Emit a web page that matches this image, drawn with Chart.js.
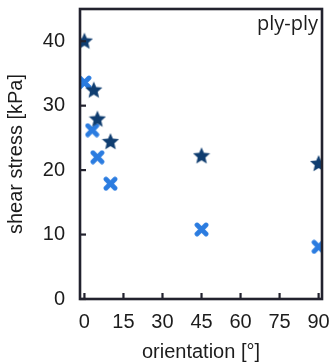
<!DOCTYPE html>
<html>
<head>
<meta charset="utf-8">
<script src="https://cdn.jsdelivr.net/npm/chart.js@4.4.1/dist/chart.umd.min.js"></script>
<style>
  html, body { margin: 0; padding: 0; background: #fff; }
  #wrap { width: 332px; height: 364px; }
</style>
</head>
<body>
<div id="wrap"><canvas id="shearChart" width="332" height="364"></canvas></div>
<script>
// orientation [°] and shear stress [kPa]
const orientDark = [0, 3.6, 5, 10, 45, 90];
const stressDark = [40.1, 32.5, 28.0, 24.5, 22.3, 21.1];
const orientLight = [0, 3, 5, 10, 45, 90];
const stressLight = [33.6, 26.2, 22.0, 17.9, 10.8, 8.1];

const xTicks = [0, 15, 30, 45, 60, 75, 90];
const yTicks = [0, 10, 20, 30, 40];

const axisColor = '#22222e';
const textColor = '#1c1c1c';
const darkColor = '#0f3d70';
const lightColor = '#2b7ce0';

// filled five-point star marker
function makeStar(size, color) {
    const c = document.createElement('canvas');
    c.width = size; c.height = size;
    const g = c.getContext('2d');
    const cx = size / 2, cy = size / 2 + 0.9;
    const ro = size / 2, ri = ro * 0.45;
    g.beginPath();
    for (let i = 0; i < 10; i++) {
        const r = i % 2 === 0 ? ro : ri;
        const a = -Math.PI / 2 + i * Math.PI / 5;
        const px = cx + r * Math.cos(a), py = cy + r * Math.sin(a);
        if (i === 0) g.moveTo(px, py); else g.lineTo(px, py);
    }
    g.closePath();
    g.fillStyle = color;
    g.fill();
    return c;
}

// thick diagonal cross marker
function makeCross(size, color) {
    const c = document.createElement('canvas');
    c.width = size; c.height = size;
    const g = c.getContext('2d');
    const m = 3;
    g.strokeStyle = color;
    g.lineWidth = 4.8;
    g.lineCap = 'round';
    g.beginPath();
    g.moveTo(m, m); g.lineTo(size - m, size - m);
    g.moveTo(size - m, m); g.lineTo(m, size - m);
    g.stroke();
    return c;
}

const starImg = makeStar(18, darkColor);
const crossImg = makeCross(15, lightColor);

function toPoints(xs, ys) {
    return xs.map((x, i) => ({ x: x, y: ys[i] }));
}

// frame, inward ticks and corner label
const framePlugin = {
    id: 'frame',
    afterDraw(chart) {
        const ctx = chart.ctx;
        const a = chart.chartArea;
        const xs = chart.scales.x, ys = chart.scales.y;
        ctx.save();
        ctx.strokeStyle = axisColor;
        ctx.lineWidth = 2.2;
        xTicks.forEach(v => {
            const px = xs.getPixelForValue(v);
            ctx.beginPath();
            ctx.moveTo(px, a.bottom);
            ctx.lineTo(px, a.bottom - 6);
            ctx.stroke();
        });
        yTicks.forEach(v => {
            const py = ys.getPixelForValue(v);
            ctx.beginPath();
            ctx.moveTo(a.left, py);
            ctx.lineTo(a.left + 6, py);
            ctx.stroke();
        });
        ctx.lineWidth = 2.6;
        ctx.strokeRect(a.left, a.top, a.right - a.left, a.bottom - a.top);

        ctx.fillStyle = textColor;
        ctx.font = '20px "Open Sans"';
        ctx.textAlign = 'right';
        ctx.textBaseline = 'alphabetic';
        ctx.fillText('ply-ply', a.right - 4, a.top + 21);
        ctx.restore();
    }
};

const tickFont = { family: '"Liberation Sans", Arial, sans-serif', size: 20 };

new Chart(document.getElementById('shearChart'), {
    type: 'scatter',
    data: {
        datasets: [
            {
                label: 'dark',
                data: toPoints(orientDark, stressDark),
                pointStyle: starImg,
                pointRadius: 8,
                clip: 0
            },
            {
                label: 'light',
                data: toPoints(orientLight, stressLight),
                pointStyle: crossImg,
                pointRadius: 7,
                clip: 0
            }
        ]
    },
    options: {
        responsive: false,
        animation: false,
        layout: { padding: { top: 7, right: 10, left: 0, bottom: 0 } },
        plugins: { legend: { display: false }, tooltip: { enabled: false } },
        scales: {
            x: {
                type: 'linear',
                min: -1.7,
                max: 91.3,
                afterBuildTicks: s => { s.ticks = xTicks.map(v => ({ value: v })); },
                afterFit: s => {
                    s.height = 65;
                    s.paddingLeft = 0;
                    s.paddingRight = 0;
                },
                grid: { display: false, drawTicks: false },
                border: { display: false },
                ticks: { color: textColor, font: tickFont, padding: 11, maxRotation: 0 },
                title: {
                    display: true,
                    text: 'orientation [°]',
                    color: textColor,
                    font: tickFont,
                    padding: { top: 4, bottom: 0 }
                }
            },
            y: {
                min: 0,
                max: 45,
                afterBuildTicks: s => { s.ticks = yTicks.map(v => ({ value: v })); },
                afterFit: s => {
                    s.width = 80;
                    s.paddingTop = 0;
                    s.paddingBottom = 0;
                },
                grid: { display: false, drawTicks: false },
                border: { display: false },
                ticks: { color: textColor, font: tickFont, padding: 15 },
                title: {
                    display: true,
                    text: 'shear stress [kPa]',
                    color: textColor,
                    font: tickFont,
                    padding: { top: 4, bottom: 2 }
                }
            }
        }
    },
    plugins: [framePlugin]
});
</script>
</body>
</html>
